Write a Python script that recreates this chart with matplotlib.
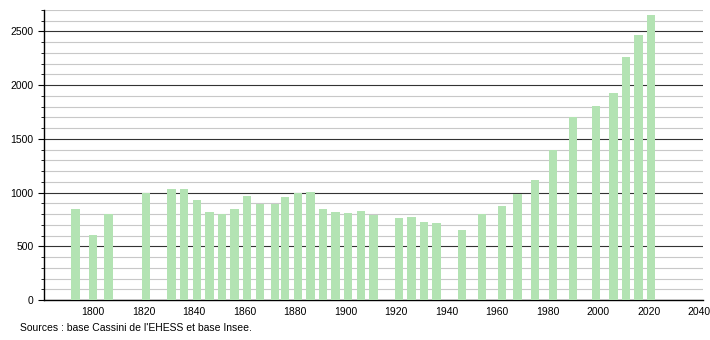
import numpy as np
import matplotlib.pyplot as plt
from matplotlib.ticker import MultipleLocator

# Recensements
annees = [1793, 1800, 1806, 1821, 1831, 1836, 1841, 1846, 1851, 1856,
          1861, 1866, 1872, 1876, 1881, 1886, 1891, 1896, 1901, 1906,
          1911, 1921, 1926, 1931, 1936, 1946, 1954, 1962, 1968, 1975,
          1982, 1990, 1999, 2006, 2011, 2016, 2021]
population = [851, 608, 804, 998, 1038, 1038, 935, 823, 804, 851,
              972, 895, 895, 960, 994, 1003, 851, 823, 813, 832,
              792, 767, 776, 729, 720, 654, 804, 879, 991, 1113,
              1393, 1702, 1802, 1923, 2263, 2468, 2649]
xticks = [1800, 1820, 1840, 1860, 1880, 1900, 1920, 1940, 1960, 1980, 2000, 2020, 2040]
source = "Sources : base Cassini de l'EHESS et base Insee."

plt.rcParams['font.family'] = ['Liberation Sans', 'DejaVu Sans']

fig = plt.figure(figsize=(7.1, 3.4), dpi=100)
ax = fig.add_axes([44 / 710, 40 / 340, 659 / 710, 290 / 340])

ax.bar(annees, population, width=3.3, color='#b3e3b3', zorder=3)

ax.set_xlim(1780.5, 2041.5)
ax.set_ylim(0, 2700)
ax.set_xticks(xticks)
ax.yaxis.set_major_locator(MultipleLocator(500))
ax.yaxis.set_minor_locator(MultipleLocator(100))
ax.grid(axis='y', which='major', color='#333333', linewidth=0.8, zorder=1)
ax.grid(axis='y', which='minor', color='#c8c8c8', linewidth=0.8, zorder=1)

for s in ['top', 'right']:
    ax.spines[s].set_visible(False)
ax.spines['left'].set_linewidth(1)
ax.spines['bottom'].set_linewidth(1)
ax.tick_params(axis='x', length=0, labelsize=7.5, pad=5)
ax.tick_params(axis='y', which='major', length=4, labelsize=7.5)
ax.tick_params(axis='y', which='minor', length=2)

fig.text(20 / 710, 1 - 328 / 340, source, fontsize=7.5, va='center')

fig.savefig('out.png', dpi=100)
